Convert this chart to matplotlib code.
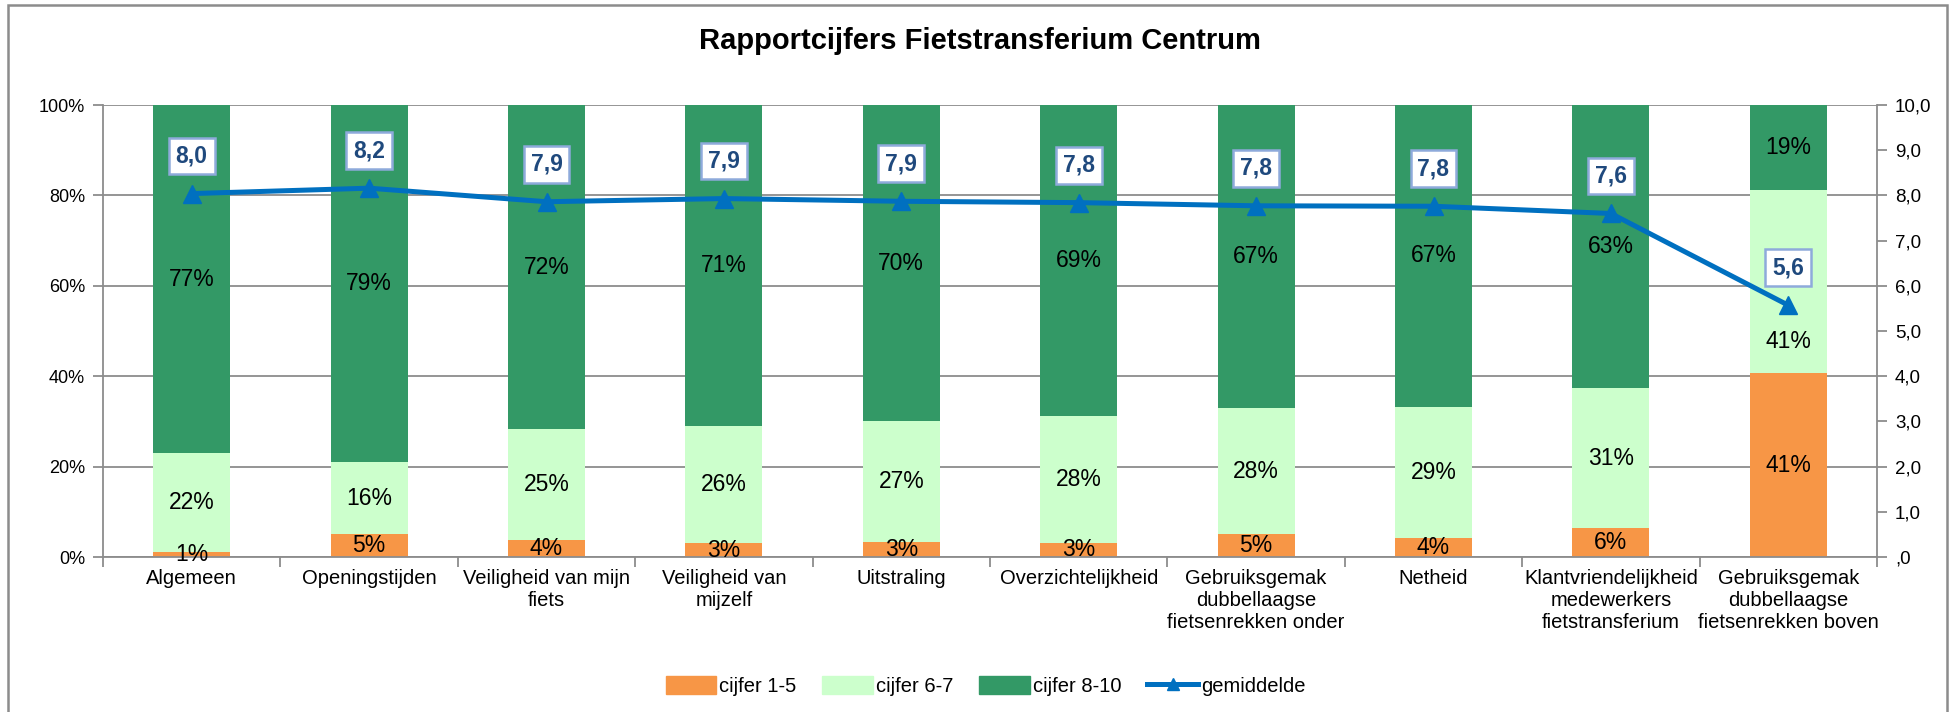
import matplotlib
matplotlib.use("Agg")
import matplotlib.pyplot as plt
from matplotlib import font_manager
from matplotlib.patches import Patch, Rectangle
from matplotlib.lines import Line2D
import numpy as np

categories = ["Algemeen", "Openingstijden", "Veiligheid van mijn\nfiets", "Veiligheid van\nmijzelf",
              "Uitstraling", "Overzichtelijkheid", "Gebruiksgemak\ndubbellaagse\nfietsenrekken onder",
              "Netheid", "Klantvriendelijkheid\nmedewerkers\nfietstransferium",
              "Gebruiksgemak\ndubbellaagse\nfietsenrekken boven"]
cijfer_1_5 = [1.0, 5.0, 3.7, 3.0, 3.3, 3.2, 5.0, 4.2, 6.4, 40.6]
cijfer_6_7 = [22.0, 16.0, 24.6, 26.0, 26.7, 28.0, 28.0, 29.0, 31.0, 40.6]
cijfer_8_10 = [77.0, 79.0, 71.7, 71.0, 70.0, 68.8, 67.0, 66.8, 62.6, 18.8]
gemiddelde = [8.04, 8.16, 7.86, 7.93, 7.87, 7.84, 7.77, 7.76, 7.60, 5.57]
series_names = ["cijfer 1-5", "cijfer 6-7", "cijfer 8-10", "gemiddelde"]
title = "Rapportcijfers Fietstransferium Centrum"

c_orange = "#F79646"
c_light = "#CCFFCC"
c_dark = "#339966"
c_line = "#0070C0"
c_lbl = "#1F497D"
c_grid = "#8C8C8C"

avail = {f.name for f in font_manager.fontManager.ttflist}
narrow_ok = "Liberation Sans Narrow" in avail
narrow = "Liberation Sans Narrow" if narrow_ok else "Liberation Sans"
plt.rcParams['font.family'] = ["Liberation Sans", "DejaVu Sans"]

fig = plt.figure(figsize=(19.59, 7.12), dpi=100)
ax = fig.add_axes([103/1959, 1-557/712, (1877-103)/1959, (557-105)/712])
ax2 = ax.twinx()

x = np.arange(len(categories))
w = 0.435
ax.bar(x, cijfer_1_5, w, color=c_orange, zorder=2)
ax.bar(x, cijfer_6_7, w, bottom=cijfer_1_5, color=c_light, zorder=2)
bot3 = np.array(cijfer_1_5) + np.array(cijfer_6_7)
ax.bar(x, cijfer_8_10, w, bottom=bot3, color=c_dark, zorder=2)

for vals, bottoms in [(cijfer_1_5, np.zeros(len(x))), (cijfer_6_7, np.array(cijfer_1_5)), (cijfer_8_10, bot3)]:
    for xi, v, b, g in zip(x, vals, bottoms, gemiddelde):
        top = min(b + v, 100)
        yc = (b + top) / 2
        # nudge a label down when it would sit under the average's label box
        if abs(yc - (g * 10 + 7)) < 8:
            yc = g * 10 - 8
        ax.text(xi, yc, f"{round(v):d}%", ha="center", va="center",
                fontsize=16.5, color="black", zorder=4)

ax.set_xlim(-0.5, len(categories) - 0.5)
ax.set_ylim(0, 100)
ax.set_yticks(np.arange(0, 101, 20))
ax.set_yticklabels([f"{v}%" for v in range(0, 101, 20)], fontsize=14.5 if narrow_ok else 13,
                   family=[narrow, "DejaVu Sans"])
ax.yaxis.grid(True, color=c_grid, lw=1.3, zorder=0)
ax.set_axisbelow(True)
ax.set_xticks(np.arange(-0.5, len(categories), 1.0))
ax.set_xticklabels([])
ax.set_xticks(x, minor=True)
ax.set_xticklabels(categories, minor=True, fontsize=14.5, family=[narrow, "DejaVu Sans"],
                   linespacing=1.2)
ax.tick_params(axis="x", which="minor", length=0, pad=9)
ax.tick_params(axis="x", which="major", length=7, color=c_grid, width=1.3, direction="out")
ax.tick_params(axis="y", length=7, color=c_grid, width=1.3, direction="out", pad=6)
for s in ["top", "right"]:
    ax.spines[s].set_visible(False)
for s in ["left", "bottom"]:
    ax.spines[s].set_color(c_grid)
    ax.spines[s].set_linewidth(1.3)

ax2.plot(x, gemiddelde, color=c_line, lw=3.6, marker="^", markersize=13, zorder=5)
ax2.set_ylim(0, 10)
ax2.set_yticks(np.arange(0, 10.1, 1))
ax2.set_yticklabels([(f"{v:.1f}".replace(".", ",") if v != 0 else ",0") for v in np.arange(0, 10.1, 1)],
                    fontsize=13.5)
ax2.tick_params(axis="y", length=7, color=c_grid, width=1.3, direction="out", pad=6)
for s in ["top", "left", "bottom"]:
    ax2.spines[s].set_visible(False)
ax2.spines["right"].set_color(c_grid)
ax2.spines["right"].set_linewidth(1.3)
for xi, v in zip(x, gemiddelde):
    ax2.annotate(f"{v:.1f}".replace(".", ","), (xi, v), xytext=(0, 27), textcoords="offset points",
                 ha="center", va="center", fontsize=16.5, fontweight="bold", color=c_lbl, zorder=6,
                 bbox=dict(boxstyle="square,pad=0.3", fc="white", ec="#8EAADB", lw=1.8))

fig.text(0.5, 1 - 41/712, title, ha="center", va="center", fontsize=21, fontweight="bold")

handles = [Patch(color=c_orange), Patch(color=c_light), Patch(color=c_dark),
           Line2D([0], [0], color=c_line, lw=3.6, marker="^", markersize=9)]
fig.legend(handles, series_names, loc="center", bbox_to_anchor=(0.503, 1 - 686/712), ncol=4,
           frameon=False, prop={"family": [narrow, "DejaVu Sans"], "size": 14.5},
           handlelength=2.5, handleheight=1.0, handletextpad=0.15, columnspacing=1.3)

fig.patches.append(Rectangle((8/1959, -0.2), (1947-8)/1959, 1.2 - 5/712, transform=fig.transFigure,
                             fill=False, ec="#8C8C8C", lw=1.8))

fig.savefig("out.png", dpi=100)
